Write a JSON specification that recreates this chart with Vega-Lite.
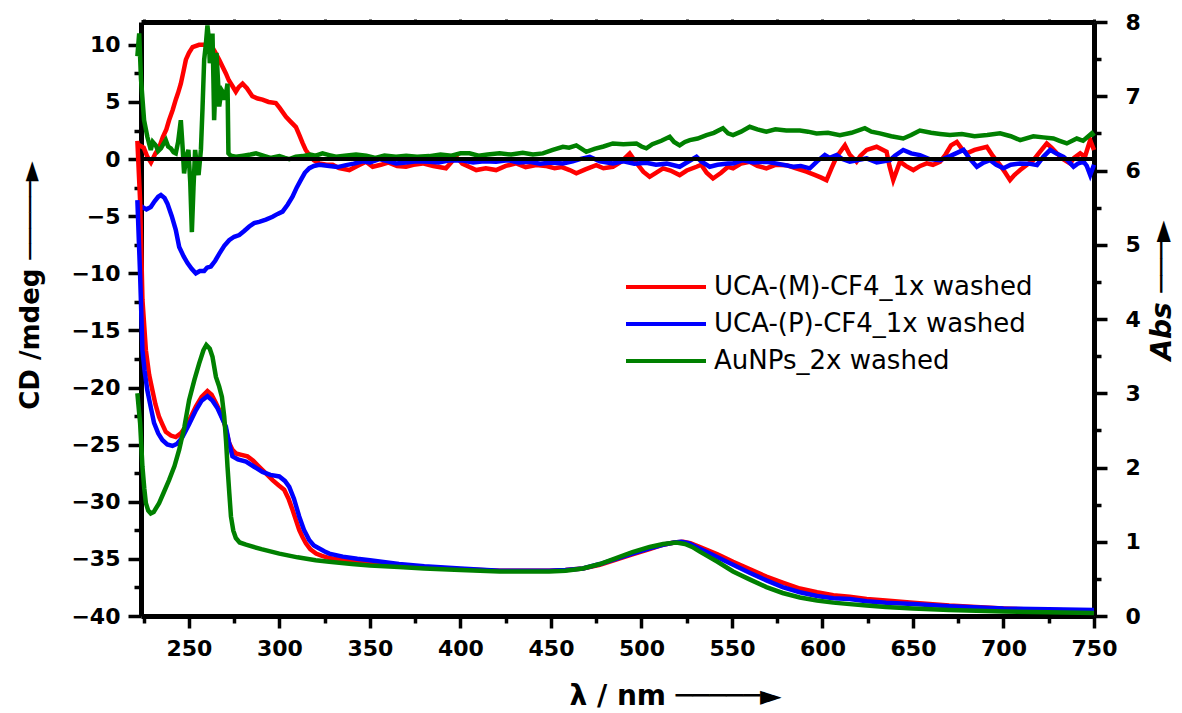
{
"$schema":"https://vega.github.io/schema/vega-lite/v6.json",
"autosize":"none",
"width":953,"height":594,
"padding":{"left":141,"top":22,"right":88,"bottom":97},
"background":"white",
"config":{"view":{"stroke":null},"axis":{"grid":false}},
"datasets":{
"cd":[
{"s":"M","nm":221.5,"v":1.3},{"s":"M","nm":225,"v":1.0},{"s":"M","nm":227,"v":0.2},{"s":"M","nm":229,"v":-0.3},{"s":"M","nm":231.5,"v":0.5},{"s":"M","nm":233.5,"v":1.0},{"s":"M","nm":235.5,"v":1.9},{"s":"M","nm":237.5,"v":2.6},{"s":"M","nm":239,"v":3.4},{"s":"M","nm":241,"v":4.3},{"s":"M","nm":242.7,"v":5.2},{"s":"M","nm":244,"v":5.8},{"s":"M","nm":245.5,"v":6.6},{"s":"M","nm":247,"v":7.7},{"s":"M","nm":248.3,"v":8.7},{"s":"M","nm":250,"v":9.3},{"s":"M","nm":252,"v":9.8},{"s":"M","nm":255.6,"v":10.0},{"s":"M","nm":259,"v":10.0},{"s":"M","nm":262,"v":10.0},{"s":"M","nm":264,"v":9.5},{"s":"M","nm":266.7,"v":8.7},{"s":"M","nm":268.5,"v":8.1},{"s":"M","nm":270.4,"v":7.5},{"s":"M","nm":272,"v":6.9},{"s":"M","nm":274,"v":6.4},{"s":"M","nm":275.9,"v":5.9},{"s":"M","nm":277.5,"v":6.3},{"s":"M","nm":279.6,"v":6.6},{"s":"M","nm":282,"v":6.2},{"s":"M","nm":285,"v":5.5},{"s":"M","nm":288,"v":5.3},{"s":"M","nm":290.6,"v":5.2},{"s":"M","nm":294,"v":5.0},{"s":"M","nm":298,"v":4.9},{"s":"M","nm":300,"v":4.5},{"s":"M","nm":303.6,"v":3.7},{"s":"M","nm":306,"v":3.3},{"s":"M","nm":309.1,"v":2.8},{"s":"M","nm":311,"v":2.1},{"s":"M","nm":312.8,"v":1.4},{"s":"M","nm":314.5,"v":0.8},{"s":"M","nm":316.5,"v":0.35},{"s":"M","nm":319,"v":-0.1},{"s":"M","nm":322,"v":-0.38},{"s":"M","nm":326,"v":-0.5},{"s":"M","nm":329.4,"v":-0.5},{"s":"M","nm":333,"v":-0.8},{"s":"M","nm":338.6,"v":-0.96},{"s":"M","nm":343,"v":-0.6},{"s":"M","nm":347.8,"v":-0.23},{"s":"M","nm":351.5,"v":-0.67},{"s":"M","nm":356,"v":-0.5},{"s":"M","nm":360,"v":-0.3},{"s":"M","nm":365,"v":-0.6},{"s":"M","nm":369.9,"v":-0.67},{"s":"M","nm":374,"v":-0.5},{"s":"M","nm":379.1,"v":-0.38},{"s":"M","nm":385,"v":-0.6},{"s":"M","nm":392,"v":-0.81},{"s":"M","nm":397.6,"v":0.2},{"s":"M","nm":401,"v":-0.4},{"s":"M","nm":405,"v":-0.7},{"s":"M","nm":408.7,"v":-0.96},{"s":"M","nm":414,"v":-0.8},{"s":"M","nm":419.7,"v":-0.96},{"s":"M","nm":425,"v":-0.6},{"s":"M","nm":430.8,"v":-0.38},{"s":"M","nm":436,"v":-0.7},{"s":"M","nm":441.9,"v":-0.53},{"s":"M","nm":447,"v":-0.6},{"s":"M","nm":452,"v":-0.8},{"s":"M","nm":456,"v":-0.7},{"s":"M","nm":460.3,"v":-0.96},{"s":"M","nm":464,"v":-1.25},{"s":"M","nm":469,"v":-0.9},{"s":"M","nm":475,"v":-0.53},{"s":"M","nm":479,"v":-0.8},{"s":"M","nm":484.2,"v":-0.67},{"s":"M","nm":489,"v":-0.2},{"s":"M","nm":493.5,"v":0.5},{"s":"M","nm":497,"v":-0.3},{"s":"M","nm":501,"v":-1.1},{"s":"M","nm":504.5,"v":-1.55},{"s":"M","nm":508,"v":-1.2},{"s":"M","nm":511.9,"v":-0.81},{"s":"M","nm":516,"v":-1.0},{"s":"M","nm":521.1,"v":-1.4},{"s":"M","nm":525,"v":-1.0},{"s":"M","nm":530.4,"v":-0.67},{"s":"M","nm":533,"v":-0.5},{"s":"M","nm":536,"v":-1.2},{"s":"M","nm":539.5,"v":-1.7},{"s":"M","nm":544,"v":-1.2},{"s":"M","nm":547.8,"v":-0.67},{"s":"M","nm":550.6,"v":-0.81},{"s":"M","nm":555,"v":-0.4},{"s":"M","nm":559.8,"v":-0.23},{"s":"M","nm":564,"v":-0.6},{"s":"M","nm":569,"v":-0.81},{"s":"M","nm":574,"v":-0.5},{"s":"M","nm":580.1,"v":-0.53},{"s":"M","nm":585,"v":-0.8},{"s":"M","nm":591.1,"v":-1.1},{"s":"M","nm":596,"v":-1.4},{"s":"M","nm":599,"v":-1.6},{"s":"M","nm":602.2,"v":-1.84},{"s":"M","nm":605,"v":-0.8},{"s":"M","nm":607.8,"v":0.2},{"s":"M","nm":612.4,"v":1.2},{"s":"M","nm":615,"v":0.4},{"s":"M","nm":618.8,"v":-0.23},{"s":"M","nm":621,"v":0.3},{"s":"M","nm":624.4,"v":0.8},{"s":"M","nm":629.9,"v":1.08},{"s":"M","nm":635.4,"v":0.64},{"s":"M","nm":637,"v":-0.6},{"s":"M","nm":639.1,"v":-1.84},{"s":"M","nm":642.8,"v":-0.23},{"s":"M","nm":646,"v":-0.6},{"s":"M","nm":650.2,"v":-0.96},{"s":"M","nm":654,"v":-0.6},{"s":"M","nm":657.6,"v":-0.38},{"s":"M","nm":661,"v":-0.5},{"s":"M","nm":665,"v":-0.23},{"s":"M","nm":668,"v":0.4},{"s":"M","nm":671,"v":1.2},{"s":"M","nm":674.2,"v":1.5},{"s":"M","nm":677,"v":0.9},{"s":"M","nm":679.7,"v":0.5},{"s":"M","nm":684,"v":0.8},{"s":"M","nm":690.8,"v":1.08},{"s":"M","nm":694,"v":0.3},{"s":"M","nm":698.1,"v":-0.53},{"s":"M","nm":701,"v":-1.2},{"s":"M","nm":703.6,"v":-1.84},{"s":"M","nm":706,"v":-1.4},{"s":"M","nm":709.2,"v":-0.96},{"s":"M","nm":713,"v":-0.5},{"s":"M","nm":716.5,"v":-0.1},{"s":"M","nm":720,"v":0.6},{"s":"M","nm":723.9,"v":1.37},{"s":"M","nm":726.5,"v":1.0},{"s":"M","nm":729.5,"v":0.5},{"s":"M","nm":733,"v":0.0},{"s":"M","nm":736.8,"v":-0.38},{"s":"M","nm":739,"v":0.1},{"s":"M","nm":742.4,"v":0.5},{"s":"M","nm":745,"v":0.2},{"s":"M","nm":747.9,"v":1.66},{"s":"M","nm":750,"v":0.8},
{"s":"P","nm":221.5,"v":-4.6},{"s":"P","nm":224.3,"v":-4.2},{"s":"P","nm":226.5,"v":-4.4},{"s":"P","nm":228.9,"v":-4.2},{"s":"P","nm":231,"v":-3.7},{"s":"P","nm":233,"v":-3.3},{"s":"P","nm":234.5,"v":-3.15},{"s":"P","nm":236.5,"v":-3.4},{"s":"P","nm":238.1,"v":-3.9},{"s":"P","nm":240.5,"v":-5.0},{"s":"P","nm":242.7,"v":-6.2},{"s":"P","nm":244.6,"v":-7.7},{"s":"P","nm":247,"v":-8.5},{"s":"P","nm":249.2,"v":-9.1},{"s":"P","nm":251.5,"v":-9.6},{"s":"P","nm":253.8,"v":-10.0},{"s":"P","nm":256,"v":-9.8},{"s":"P","nm":258.4,"v":-9.8},{"s":"P","nm":260,"v":-9.5},{"s":"P","nm":262.1,"v":-9.4},{"s":"P","nm":264.5,"v":-8.9},{"s":"P","nm":266.7,"v":-8.3},{"s":"P","nm":269.5,"v":-7.6},{"s":"P","nm":272.2,"v":-7.1},{"s":"P","nm":275,"v":-6.8},{"s":"P","nm":277.8,"v":-6.65},{"s":"P","nm":280.5,"v":-6.3},{"s":"P","nm":283.3,"v":-5.9},{"s":"P","nm":286,"v":-5.6},{"s":"P","nm":288.8,"v":-5.5},{"s":"P","nm":292.5,"v":-5.3},{"s":"P","nm":296.2,"v":-5.05},{"s":"P","nm":299,"v":-4.8},{"s":"P","nm":301.7,"v":-4.6},{"s":"P","nm":304.5,"v":-4.0},{"s":"P","nm":307.2,"v":-3.3},{"s":"P","nm":309.5,"v":-2.5},{"s":"P","nm":311.9,"v":-1.8},{"s":"P","nm":314,"v":-1.2},{"s":"P","nm":316.5,"v":-0.8},{"s":"P","nm":319,"v":-0.6},{"s":"P","nm":322,"v":-0.5},{"s":"P","nm":327.5,"v":-0.6},{"s":"P","nm":332,"v":-0.7},{"s":"P","nm":336.8,"v":-0.53},{"s":"P","nm":341,"v":-0.4},{"s":"P","nm":346,"v":-0.2},{"s":"P","nm":350,"v":-0.3},{"s":"P","nm":355.2,"v":0.0},{"s":"P","nm":360,"v":-0.2},{"s":"P","nm":364.4,"v":-0.38},{"s":"P","nm":370,"v":-0.3},{"s":"P","nm":376,"v":-0.2},{"s":"P","nm":382.8,"v":-0.23},{"s":"P","nm":388,"v":-0.3},{"s":"P","nm":394,"v":-0.1},{"s":"P","nm":401.3,"v":-0.13},{"s":"P","nm":407,"v":-0.3},{"s":"P","nm":413,"v":-0.2},{"s":"P","nm":419.7,"v":-0.23},{"s":"P","nm":426,"v":-0.1},{"s":"P","nm":432,"v":-0.3},{"s":"P","nm":438.2,"v":-0.23},{"s":"P","nm":444,"v":-0.4},{"s":"P","nm":450,"v":-0.3},{"s":"P","nm":456.6,"v":-0.38},{"s":"P","nm":462,"v":-0.2},{"s":"P","nm":466,"v":0.0},{"s":"P","nm":471.4,"v":0.2},{"s":"P","nm":477,"v":-0.2},{"s":"P","nm":484.2,"v":-0.38},{"s":"P","nm":490,"v":-0.2},{"s":"P","nm":496,"v":-0.4},{"s":"P","nm":502.7,"v":-0.32},{"s":"P","nm":508,"v":-0.5},{"s":"P","nm":514,"v":-0.4},{"s":"P","nm":521.1,"v":-0.67},{"s":"P","nm":525,"v":-0.3},{"s":"P","nm":530.4,"v":0.2},{"s":"P","nm":533,"v":-0.2},{"s":"P","nm":537.7,"v":-0.67},{"s":"P","nm":542,"v":-0.5},{"s":"P","nm":547.8,"v":-0.38},{"s":"P","nm":550.6,"v":-0.38},{"s":"P","nm":556,"v":-0.1},{"s":"P","nm":562,"v":-0.3},{"s":"P","nm":569,"v":-0.23},{"s":"P","nm":575,"v":-0.4},{"s":"P","nm":583.8,"v":-0.67},{"s":"P","nm":588,"v":-0.6},{"s":"P","nm":593,"v":-0.81},{"s":"P","nm":597,"v":-0.2},{"s":"P","nm":601.3,"v":0.35},{"s":"P","nm":604,"v":0.1},{"s":"P","nm":607.8,"v":0.35},{"s":"P","nm":611,"v":0.0},{"s":"P","nm":615.1,"v":-0.23},{"s":"P","nm":619,"v":-0.1},{"s":"P","nm":624.4,"v":0.06},{"s":"P","nm":630,"v":-0.3},{"s":"P","nm":637.3,"v":-0.1},{"s":"P","nm":640,"v":0.3},{"s":"P","nm":644.6,"v":0.8},{"s":"P","nm":649,"v":0.5},{"s":"P","nm":653.8,"v":0.35},{"s":"P","nm":659,"v":0.0},{"s":"P","nm":665,"v":-0.1},{"s":"P","nm":671,"v":0.3},{"s":"P","nm":677.9,"v":0.8},{"s":"P","nm":681,"v":0.1},{"s":"P","nm":685.3,"v":-0.67},{"s":"P","nm":689,"v":-0.3},{"s":"P","nm":692.6,"v":-0.1},{"s":"P","nm":696,"v":-0.5},{"s":"P","nm":700,"v":-0.81},{"s":"P","nm":704,"v":-0.5},{"s":"P","nm":709.2,"v":-0.38},{"s":"P","nm":714,"v":-0.4},{"s":"P","nm":718.5,"v":-0.53},{"s":"P","nm":722,"v":0.2},{"s":"P","nm":725.8,"v":0.8},{"s":"P","nm":729,"v":0.5},{"s":"P","nm":733.2,"v":0.2},{"s":"P","nm":736,"v":-0.2},{"s":"P","nm":738.7,"v":-0.67},{"s":"P","nm":741,"v":-0.4},{"s":"P","nm":744.2,"v":-0.23},{"s":"P","nm":746,"v":-0.6},{"s":"P","nm":747.9,"v":-1.4},{"s":"P","nm":750,"v":-0.5},
{"s":"Au","nm":221.5,"v":9.0},{"s":"Au","nm":222.5,"v":11.0},{"s":"Au","nm":223.5,"v":7.0},{"s":"Au","nm":225.2,"v":3.4},{"s":"Au","nm":227,"v":1.95},{"s":"Au","nm":228.9,"v":0.8},{"s":"Au","nm":230,"v":1.5},{"s":"Au","nm":231.7,"v":1.2},{"s":"Au","nm":233,"v":0.7},{"s":"Au","nm":234.5,"v":0.94},{"s":"Au","nm":235.8,"v":1.3},{"s":"Au","nm":237.2,"v":1.66},{"s":"Au","nm":238.5,"v":1.1},{"s":"Au","nm":240,"v":0.94},{"s":"Au","nm":241.5,"v":0.6},{"s":"Au","nm":242.7,"v":0.5},{"s":"Au","nm":244,"v":1.5},{"s":"Au","nm":245.5,"v":3.4},{"s":"Au","nm":246.5,"v":1.0},{"s":"Au","nm":247.3,"v":-1.25},{"s":"Au","nm":248.5,"v":0.2},{"s":"Au","nm":249.7,"v":0.8},{"s":"Au","nm":250.7,"v":-2.0},{"s":"Au","nm":251.6,"v":-6.4},{"s":"Au","nm":252.5,"v":-2.5},{"s":"Au","nm":253.4,"v":0.8},{"s":"Au","nm":254.3,"v":-0.5},{"s":"Au","nm":255.3,"v":-1.4},{"s":"Au","nm":256.6,"v":0.8},{"s":"Au","nm":257.5,"v":4.5},{"s":"Au","nm":258.4,"v":8.7},{"s":"Au","nm":259.3,"v":10.0},{"s":"Au","nm":260.2,"v":11.7},{"s":"Au","nm":261,"v":10.5},{"s":"Au","nm":261.5,"v":8.4},{"s":"Au","nm":262.3,"v":9.5},{"s":"Au","nm":263,"v":11.0},{"s":"Au","nm":263.5,"v":7.0},{"s":"Au","nm":263.9,"v":3.4},{"s":"Au","nm":264.5,"v":6.0},{"s":"Au","nm":265.2,"v":9.3},{"s":"Au","nm":266,"v":7.0},{"s":"Au","nm":266.7,"v":4.6},{"s":"Au","nm":267.5,"v":5.5},{"s":"Au","nm":268.2,"v":6.0},{"s":"Au","nm":269,"v":5.8},{"s":"Au","nm":269.6,"v":5.2},{"s":"Au","nm":270.5,"v":5.8},{"s":"Au","nm":271.3,"v":6.6},{"s":"Au","nm":271.8,"v":0.5},{"s":"Au","nm":273,"v":0.3},{"s":"Au","nm":275.9,"v":0.2},{"s":"Au","nm":280,"v":0.3},{"s":"Au","nm":284,"v":0.4},{"s":"Au","nm":287,"v":0.5},{"s":"Au","nm":291,"v":0.3},{"s":"Au","nm":295,"v":0.1},{"s":"Au","nm":299.9,"v":0.26},{"s":"Au","nm":303,"v":0.1},{"s":"Au","nm":305.4,"v":0.0},{"s":"Au","nm":309,"v":0.2},{"s":"Au","nm":312.8,"v":0.26},{"s":"Au","nm":317,"v":0.4},{"s":"Au","nm":320,"v":0.3},{"s":"Au","nm":323.8,"v":0.5},{"s":"Au","nm":327.5,"v":0.35},{"s":"Au","nm":331.2,"v":0.2},{"s":"Au","nm":336,"v":0.3},{"s":"Au","nm":342.3,"v":0.4},{"s":"Au","nm":348,"v":0.3},{"s":"Au","nm":353,"v":0.1},{"s":"Au","nm":358,"v":0.3},{"s":"Au","nm":364.4,"v":0.2},{"s":"Au","nm":370,"v":0.3},{"s":"Au","nm":376,"v":0.2},{"s":"Au","nm":382.8,"v":0.26},{"s":"Au","nm":389,"v":0.4},{"s":"Au","nm":395,"v":0.3},{"s":"Au","nm":400,"v":0.5},{"s":"Au","nm":405,"v":0.5},{"s":"Au","nm":410,"v":0.3},{"s":"Au","nm":415,"v":0.4},{"s":"Au","nm":421.6,"v":0.5},{"s":"Au","nm":428,"v":0.4},{"s":"Au","nm":434.4,"v":0.55},{"s":"Au","nm":440,"v":0.4},{"s":"Au","nm":445.5,"v":0.5},{"s":"Au","nm":451,"v":0.8},{"s":"Au","nm":456.6,"v":1.08},{"s":"Au","nm":460,"v":1.0},{"s":"Au","nm":464,"v":1.2},{"s":"Au","nm":467,"v":0.9},{"s":"Au","nm":469.5,"v":0.64},{"s":"Au","nm":474,"v":0.9},{"s":"Au","nm":479,"v":1.1},{"s":"Au","nm":484.2,"v":1.37},{"s":"Au","nm":490,"v":1.3},{"s":"Au","nm":497.2,"v":1.37},{"s":"Au","nm":500,"v":1.1},{"s":"Au","nm":502.7,"v":0.94},{"s":"Au","nm":506,"v":1.3},{"s":"Au","nm":511,"v":1.6},{"s":"Au","nm":515.6,"v":1.95},{"s":"Au","nm":518,"v":1.5},{"s":"Au","nm":521.1,"v":1.2},{"s":"Au","nm":524,"v":1.5},{"s":"Au","nm":526.7,"v":1.66},{"s":"Au","nm":531,"v":1.8},{"s":"Au","nm":535.9,"v":2.1},{"s":"Au","nm":540,"v":2.3},{"s":"Au","nm":545,"v":2.7},{"s":"Au","nm":547.8,"v":2.25},{"s":"Au","nm":550.6,"v":2.1},{"s":"Au","nm":555,"v":2.4},{"s":"Au","nm":559.8,"v":2.83},{"s":"Au","nm":564,"v":2.6},{"s":"Au","nm":569,"v":2.4},{"s":"Au","nm":574,"v":2.6},{"s":"Au","nm":580,"v":2.5},{"s":"Au","nm":587.5,"v":2.5},{"s":"Au","nm":592,"v":2.4},{"s":"Au","nm":596.7,"v":2.25},{"s":"Au","nm":603,"v":2.3},{"s":"Au","nm":609.6,"v":2.1},{"s":"Au","nm":616,"v":2.3},{"s":"Au","nm":623.4,"v":2.7},{"s":"Au","nm":627,"v":2.4},{"s":"Au","nm":631.7,"v":2.25},{"s":"Au","nm":638,"v":2.0},{"s":"Au","nm":644.6,"v":1.8},{"s":"Au","nm":649,"v":2.1},{"s":"Au","nm":653.8,"v":2.5},{"s":"Au","nm":660,"v":2.3},{"s":"Au","nm":665,"v":2.2},{"s":"Au","nm":670.4,"v":2.1},{"s":"Au","nm":677,"v":2.2},{"s":"Au","nm":684,"v":2.0},{"s":"Au","nm":691,"v":2.1},{"s":"Au","nm":698.1,"v":2.25},{"s":"Au","nm":704,"v":2.0},{"s":"Au","nm":709.2,"v":1.66},{"s":"Au","nm":716.5,"v":2.0},{"s":"Au","nm":722,"v":1.9},{"s":"Au","nm":727.6,"v":1.8},{"s":"Au","nm":731,"v":1.6},{"s":"Au","nm":735,"v":1.37},{"s":"Au","nm":740.5,"v":1.8},{"s":"Au","nm":744,"v":1.6},{"s":"Au","nm":748.8,"v":2.25},{"s":"Au","nm":750,"v":2.0}
],
"abs":[
{"s":"M","nm":221.5,"v":6.4},{"s":"M","nm":223,"v":5.6},{"s":"M","nm":224.3,"v":4.26},{"s":"M","nm":226.2,"v":3.58},{"s":"M","nm":228,"v":3.25},{"s":"M","nm":229.8,"v":3.04},{"s":"M","nm":231.5,"v":2.85},{"s":"M","nm":233.5,"v":2.68},{"s":"M","nm":235.5,"v":2.57},{"s":"M","nm":237.2,"v":2.48},{"s":"M","nm":240,"v":2.43},{"s":"M","nm":242.7,"v":2.41},{"s":"M","nm":245.5,"v":2.46},{"s":"M","nm":248.3,"v":2.55},{"s":"M","nm":251,"v":2.68},{"s":"M","nm":253.8,"v":2.82},{"s":"M","nm":257,"v":2.95},{"s":"M","nm":260.2,"v":3.03},{"s":"M","nm":262.5,"v":2.98},{"s":"M","nm":264.9,"v":2.87},{"s":"M","nm":267,"v":2.76},{"s":"M","nm":269.5,"v":2.6},{"s":"M","nm":271,"v":2.45},{"s":"M","nm":272.2,"v":2.33},{"s":"M","nm":274,"v":2.24},{"s":"M","nm":275.9,"v":2.19},{"s":"M","nm":279,"v":2.17},{"s":"M","nm":282.3,"v":2.15},{"s":"M","nm":285.5,"v":2.09},{"s":"M","nm":288.8,"v":2.01},{"s":"M","nm":292.5,"v":1.92},{"s":"M","nm":296.2,"v":1.83},{"s":"M","nm":299.5,"v":1.76},{"s":"M","nm":302.6,"v":1.7},{"s":"M","nm":305,"v":1.58},{"s":"M","nm":307.2,"v":1.43},{"s":"M","nm":309,"v":1.3},{"s":"M","nm":310.9,"v":1.16},{"s":"M","nm":312.8,"v":1.06},{"s":"M","nm":314.6,"v":0.98},{"s":"M","nm":317,"v":0.9},{"s":"M","nm":320.2,"v":0.84},{"s":"M","nm":323.5,"v":0.81},{"s":"M","nm":327.5,"v":0.78},{"s":"M","nm":335,"v":0.75},{"s":"M","nm":343,"v":0.73},{"s":"M","nm":350,"v":0.71},{"s":"M","nm":366,"v":0.68},{"s":"M","nm":380,"v":0.66},{"s":"M","nm":400,"v":0.63},{"s":"M","nm":421.6,"v":0.61},{"s":"M","nm":435,"v":0.61},{"s":"M","nm":449,"v":0.61},{"s":"M","nm":458,"v":0.62},{"s":"M","nm":467.6,"v":0.64},{"s":"M","nm":477,"v":0.69},{"s":"M","nm":486,"v":0.76},{"s":"M","nm":495,"v":0.83},{"s":"M","nm":504.5,"v":0.9},{"s":"M","nm":512,"v":0.96},{"s":"M","nm":518,"v":0.99},{"s":"M","nm":523,"v":1.0},{"s":"M","nm":527,"v":0.98},{"s":"M","nm":532,"v":0.93},{"s":"M","nm":537,"v":0.88},{"s":"M","nm":542,"v":0.83},{"s":"M","nm":550.6,"v":0.73},{"s":"M","nm":560,"v":0.63},{"s":"M","nm":569,"v":0.53},{"s":"M","nm":578,"v":0.45},{"s":"M","nm":587.5,"v":0.37},{"s":"M","nm":597,"v":0.32},{"s":"M","nm":606,"v":0.28},{"s":"M","nm":615,"v":0.26},{"s":"M","nm":624.4,"v":0.23},{"s":"M","nm":635,"v":0.21},{"s":"M","nm":650,"v":0.18},{"s":"M","nm":670,"v":0.14},{"s":"M","nm":700,"v":0.1},{"s":"M","nm":725,"v":0.08},{"s":"M","nm":750,"v":0.07},
{"s":"P","nm":221.5,"v":5.6},{"s":"P","nm":223,"v":4.6},{"s":"P","nm":224.3,"v":3.58},{"s":"P","nm":225.5,"v":3.3},{"s":"P","nm":227,"v":3.04},{"s":"P","nm":229,"v":2.8},{"s":"P","nm":230.7,"v":2.6},{"s":"P","nm":233,"v":2.46},{"s":"P","nm":235.3,"v":2.37},{"s":"P","nm":238,"v":2.31},{"s":"P","nm":240.9,"v":2.29},{"s":"P","nm":243.5,"v":2.32},{"s":"P","nm":246.4,"v":2.41},{"s":"P","nm":250,"v":2.58},{"s":"P","nm":253.8,"v":2.77},{"s":"P","nm":257,"v":2.9},{"s":"P","nm":260.2,"v":2.96},{"s":"P","nm":263,"v":2.9},{"s":"P","nm":265.7,"v":2.8},{"s":"P","nm":268,"v":2.68},{"s":"P","nm":270.4,"v":2.55},{"s":"P","nm":272,"v":2.35},{"s":"P","nm":274,"v":2.15},{"s":"P","nm":277,"v":2.11},{"s":"P","nm":281.5,"v":2.08},{"s":"P","nm":286,"v":2.01},{"s":"P","nm":290.6,"v":1.94},{"s":"P","nm":295,"v":1.9},{"s":"P","nm":299.9,"v":1.88},{"s":"P","nm":303,"v":1.82},{"s":"P","nm":305.4,"v":1.74},{"s":"P","nm":308,"v":1.58},{"s":"P","nm":310.9,"v":1.34},{"s":"P","nm":313.5,"v":1.16},{"s":"P","nm":316.5,"v":1.02},{"s":"P","nm":319,"v":0.95},{"s":"P","nm":322,"v":0.91},{"s":"P","nm":325,"v":0.87},{"s":"P","nm":327.5,"v":0.84},{"s":"P","nm":335,"v":0.8},{"s":"P","nm":343,"v":0.77},{"s":"P","nm":350,"v":0.75},{"s":"P","nm":366,"v":0.7},{"s":"P","nm":380,"v":0.67},{"s":"P","nm":400,"v":0.64},{"s":"P","nm":421.6,"v":0.61},{"s":"P","nm":435,"v":0.61},{"s":"P","nm":449,"v":0.61},{"s":"P","nm":458,"v":0.62},{"s":"P","nm":467.6,"v":0.64},{"s":"P","nm":477,"v":0.7},{"s":"P","nm":486,"v":0.77},{"s":"P","nm":495,"v":0.84},{"s":"P","nm":504.5,"v":0.91},{"s":"P","nm":512,"v":0.96},{"s":"P","nm":518,"v":0.99},{"s":"P","nm":522,"v":1.0},{"s":"P","nm":526,"v":0.98},{"s":"P","nm":532,"v":0.91},{"s":"P","nm":537,"v":0.85},{"s":"P","nm":542,"v":0.79},{"s":"P","nm":550.6,"v":0.69},{"s":"P","nm":560,"v":0.58},{"s":"P","nm":569,"v":0.48},{"s":"P","nm":578,"v":0.39},{"s":"P","nm":587.5,"v":0.32},{"s":"P","nm":597,"v":0.27},{"s":"P","nm":606,"v":0.24},{"s":"P","nm":615,"v":0.23},{"s":"P","nm":624.4,"v":0.2},{"s":"P","nm":635,"v":0.18},{"s":"P","nm":650,"v":0.16},{"s":"P","nm":670,"v":0.13},{"s":"P","nm":700,"v":0.1},{"s":"P","nm":725,"v":0.09},{"s":"P","nm":750,"v":0.08},
{"s":"Au","nm":221.5,"v":3.0},{"s":"Au","nm":223,"v":2.6},{"s":"Au","nm":224.3,"v":2.01},{"s":"Au","nm":225.3,"v":1.72},{"s":"Au","nm":226.2,"v":1.52},{"s":"Au","nm":227.5,"v":1.42},{"s":"Au","nm":228.9,"v":1.38},{"s":"Au","nm":230.5,"v":1.4},{"s":"Au","nm":233.5,"v":1.52},{"s":"Au","nm":236,"v":1.66},{"s":"Au","nm":239,"v":1.83},{"s":"Au","nm":242,"v":2.02},{"s":"Au","nm":244.6,"v":2.24},{"s":"Au","nm":247.5,"v":2.55},{"s":"Au","nm":250.1,"v":2.91},{"s":"Au","nm":253,"v":3.18},{"s":"Au","nm":255.6,"v":3.4},{"s":"Au","nm":258,"v":3.58},{"s":"Au","nm":259.6,"v":3.65},{"s":"Au","nm":261.5,"v":3.6},{"s":"Au","nm":263,"v":3.49},{"s":"Au","nm":264.9,"v":3.22},{"s":"Au","nm":266.7,"v":3.09},{"s":"Au","nm":268.2,"v":2.95},{"s":"Au","nm":269.5,"v":2.68},{"s":"Au","nm":270.5,"v":2.35},{"s":"Au","nm":271.3,"v":2.01},{"s":"Au","nm":272.3,"v":1.65},{"s":"Au","nm":273.2,"v":1.34},{"s":"Au","nm":274.5,"v":1.15},{"s":"Au","nm":275.9,"v":1.05},{"s":"Au","nm":278,"v":0.99},{"s":"Au","nm":281.5,"v":0.96},{"s":"Au","nm":290,"v":0.9},{"s":"Au","nm":299.9,"v":0.84},{"s":"Au","nm":310,"v":0.79},{"s":"Au","nm":320,"v":0.75},{"s":"Au","nm":327.5,"v":0.73},{"s":"Au","nm":340,"v":0.7},{"s":"Au","nm":350,"v":0.68},{"s":"Au","nm":366,"v":0.66},{"s":"Au","nm":380,"v":0.64},{"s":"Au","nm":400,"v":0.62},{"s":"Au","nm":421.6,"v":0.6},{"s":"Au","nm":435,"v":0.6},{"s":"Au","nm":449,"v":0.6},{"s":"Au","nm":458,"v":0.61},{"s":"Au","nm":467.6,"v":0.64},{"s":"Au","nm":477,"v":0.7},{"s":"Au","nm":486,"v":0.78},{"s":"Au","nm":495,"v":0.86},{"s":"Au","nm":504.5,"v":0.93},{"s":"Au","nm":512,"v":0.97},{"s":"Au","nm":519.3,"v":0.99},{"s":"Au","nm":524,"v":0.97},{"s":"Au","nm":528,"v":0.93},{"s":"Au","nm":532,"v":0.87},{"s":"Au","nm":537,"v":0.8},{"s":"Au","nm":542,"v":0.73},{"s":"Au","nm":550.6,"v":0.6},{"s":"Au","nm":560,"v":0.49},{"s":"Au","nm":569,"v":0.39},{"s":"Au","nm":578,"v":0.31},{"s":"Au","nm":587.5,"v":0.25},{"s":"Au","nm":597,"v":0.21},{"s":"Au","nm":606,"v":0.18},{"s":"Au","nm":615,"v":0.16},{"s":"Au","nm":624.4,"v":0.14},{"s":"Au","nm":635,"v":0.12},{"s":"Au","nm":650,"v":0.1},{"s":"Au","nm":670,"v":0.08},{"s":"Au","nm":700,"v":0.06},{"s":"Au","nm":725,"v":0.05},{"s":"Au","nm":750,"v":0.04}
]
},
"layer":[
{
"data":{"name":"cd"},
"mark":{"type":"line","strokeWidth":4.5,"clip":false},
"encoding":{
"x":{"field":"nm","type":"quantitative","scale":{"domain":[223.5,750],"nice":false,"zero":false},
"axis":{"orient":"bottom","values":[225,250,275,300,325,350,375,400,425,450,475,500,525,550,575,600,625,650,675,700,725,750],
"labelExpr":"datum.value % 50 === 0 ? format(datum.value, 'd') : ''",
"tickSize":{"condition":{"test":"datum.value % 50 === 0","value":12},"value":7},
"tickWidth":3.5,"tickColor":"black","domainColor":"black","domainWidth":5,
"labelFont":"DejaVu Sans","labelFontWeight":"bold","labelFontSize":22,"labelColor":"black","labelPadding":10,"labelFlush":false,"labelOverlap":false,"labelBound":false,
"encoding":{"labels":{"update":{"dy":{"value":3}}}},
"title":"λ / nm  ─────►","titleFont":"DejaVu Sans","titleFontWeight":"bold","titleFontSize":28,"titleColor":"black","titleX":534,"titleY":80,"titleAlign":"center","titleBaseline":"middle"}},
"y":{"field":"v","type":"quantitative","scale":{"domain":[-40,12],"nice":false,"zero":false},
"axis":{"orient":"left","values":[-40,-37.5,-35,-32.5,-30,-27.5,-25,-22.5,-20,-17.5,-15,-12.5,-10,-7.5,-5,-2.5,0,2.5,5,7.5,10],
"labelExpr":"datum.value % 5 === 0 ? format(datum.value, 'd') : ''",
"tickSize":{"condition":{"test":"datum.value % 5 === 0","value":13},"value":7},
"tickWidth":3.5,"tickColor":"black","domainColor":"black","domainWidth":5,
"labelFont":"DejaVu Sans","labelFontWeight":"bold","labelFontSize":22,"labelColor":"black","labelPadding":8,"labelFlush":false,"labelOverlap":false,"labelBound":false,
"encoding":{"labels":{"update":{"dx":{"value":-4}}}},
"title":"CD /mdeg  ─────►","titleFont":"DejaVu Sans","titleFontWeight":"bold","titleFontSize":26,"titleColor":"black","titleAngle":-90,"titleX":-111,"titleY":263,"titleAlign":"center","titleBaseline":"middle"}},
"color":{"field":"s","type":"nominal","scale":{"domain":["M","P","Au"],"range":["#ff0000","#0000ff","#008000"]},
"legend":{"orient":"none","legendX":512,"legendY":252,"direction":"vertical","title":null,"symbolType":"M-4,0H4","symbolSize":400,"symbolStrokeWidth":4,"labelFont":"DejaVu Sans","labelFontSize":26,"labelColor":"black","labelOffset":35,"rowPadding":11,"padding":0,"labelLimit":0,
"labelExpr":"datum.label === 'M' ? 'UCA-(M)-CF4_1x washed' : datum.label === 'P' ? 'UCA-(P)-CF4_1x washed' : 'AuNPs_2x washed'"}},
"order":{"field":"nm","type":"quantitative"}
}
},
{
"data":{"name":"abs"},
"mark":{"type":"line","strokeWidth":4.5,"clip":false},
"encoding":{
"x":{"field":"nm","type":"quantitative","scale":{"domain":[223.5,750],"nice":false,"zero":false},
"axis":{"orient":"top","values":[225,250,275,300,325,350,375,400,425,450,475,500,525,550,575,600,625,650,675,700,725,750],"labels":false,"tickSize":3,"tickWidth":3,"tickColor":"black","domainColor":"black","domainWidth":5,"title":null}},
"y":{"field":"v","type":"quantitative","scale":{"domain":[0,8],"nice":false,"zero":false},
"axis":{"orient":"right","values":[0,0.5,1,1.5,2,2.5,3,3.5,4,4.5,5,5.5,6,6.5,7,7.5,8],
"labelExpr":"datum.value % 1 === 0 ? format(datum.value, 'd') : ''",
"tickSize":{"condition":{"test":"datum.value % 1 === 0","value":13},"value":7},
"tickWidth":3.5,"tickColor":"black","domainColor":"black","domainWidth":5,
"labelFont":"DejaVu Sans","labelFontWeight":"bold","labelFontSize":22,"labelColor":"black","labelPadding":18,"labelFlush":false,"labelOverlap":false,"labelBound":false,
"encoding":{"labels":{"update":{"dx":{"value":13}}}},
"title":"Abs  ───►","titleFont":"DejaVu Sans","titleFontWeight":"bold","titleFontStyle":"italic","titleFontSize":28,"titleColor":"black","titleAngle":270,"titleX":68,"titleY":268,"titleAlign":"center","titleBaseline":"middle"}},
"color":{"field":"s","type":"nominal","scale":{"domain":["M","P","Au"],"range":["#ff0000","#0000ff","#008000"]},"legend":null},
"order":{"field":"nm","type":"quantitative"}
}
},
{
"data":{"values":[{"z":0}]},
"mark":{"type":"rule","color":"black","strokeWidth":4},
"encoding":{"y":{"field":"z","type":"quantitative","scale":{"domain":[-40,12],"nice":false,"zero":false},"axis":null}}
}
],
"resolve":{"scale":{"y":"independent"},"axis":{"x":"independent"}}
}
